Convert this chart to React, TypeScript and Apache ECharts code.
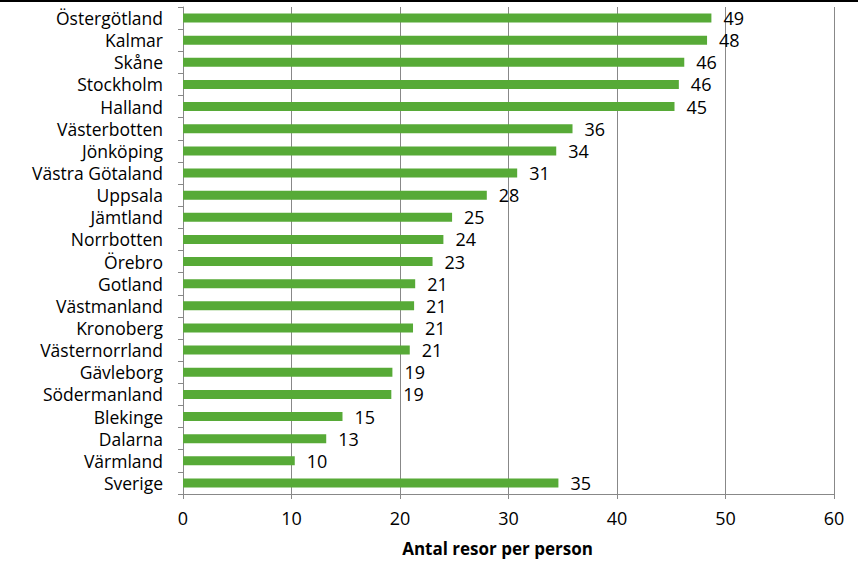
import React, { useEffect, useRef } from "react";
import * as echarts from "echarts";

const categories = [
  "Östergötland", "Kalmar", "Skåne", "Stockholm", "Halland", "Västerbotten",
  "Jönköping", "Västra Götaland", "Uppsala", "Jämtland", "Norrbotten", "Örebro",
  "Gotland", "Västmanland", "Kronoberg", "Västernorrland", "Gävleborg",
  "Södermanland", "Blekinge", "Dalarna", "Värmland", "Sverige",
];
const values = [
  48.7, 48.3, 46.2, 45.7, 45.3, 35.9, 34.4, 30.8, 28.0, 24.8, 24.0, 23.0,
  21.4, 21.3, 21.2, 20.9, 19.3, 19.2, 14.7, 13.2, 10.3, 34.6,
];
const xTicks = { min: 0, max: 60, interval: 10 };
const xName = "Antal resor per person";

export default function App() {
  const ref = useRef<HTMLDivElement>(null);
  useEffect(() => {
    const chart = echarts.init(ref.current!, null, { renderer: "svg" });
    const font = "'Open Sans', 'Noto Sans', sans-serif";
    chart.setOption({
      animation: false,
      textStyle: { fontFamily: font },
      grid: { left: 183, right: 24, top: 7, bottom: 80, containLabel: false },
      graphic: [
        { type: "rect", shape: { x: 0, y: 0, width: 858, height: 2 }, style: { fill: "#000" } },
      ],
      xAxis: {
        type: "value",
        min: xTicks.min,
        max: xTicks.max,
        interval: xTicks.interval,
        name: xName,
        nameLocation: "middle",
        nameGap: 46,
        nameTextStyle: {
          fontSize: 17, fontWeight: "bold", color: "#000", fontFamily: font,
          padding: [0, 22, 0, 0],
        },
        axisLine: { show: true, lineStyle: { color: "#888", width: 1 } },
        axisTick: { show: true, length: 5, lineStyle: { color: "#888" } },
        axisLabel: { fontSize: 18, color: "#000", margin: 15, fontFamily: font },
        splitLine: { show: true, lineStyle: { color: "#888", width: 1 } },
      },
      yAxis: {
        type: "category",
        data: categories,
        inverse: true,
        axisLine: { show: true, lineStyle: { color: "#888", width: 1 } },
        axisTick: { show: true, length: 5, interval: 0, alignWithLabel: false, lineStyle: { color: "#888" } },
        axisLabel: { fontSize: 17.5, color: "#000", margin: 20, interval: 0, fontFamily: font },
      },
      series: [
        {
          type: "bar",
          data: values,
          barWidth: 9,
          itemStyle: { color: "#57AA37" },
          label: {
            show: true,
            position: "right",
            distance: 12,
            fontSize: 18,
            color: "#000",
            fontFamily: font,
            formatter: (p: any) => String(Math.round(p.value)),
          },
        },
      ],
    });
    return () => chart.dispose();
  }, []);
  return <div ref={ref} style={{ width: 858, height: 574, position: "absolute", left: 0, top: 0 }} />;
}
